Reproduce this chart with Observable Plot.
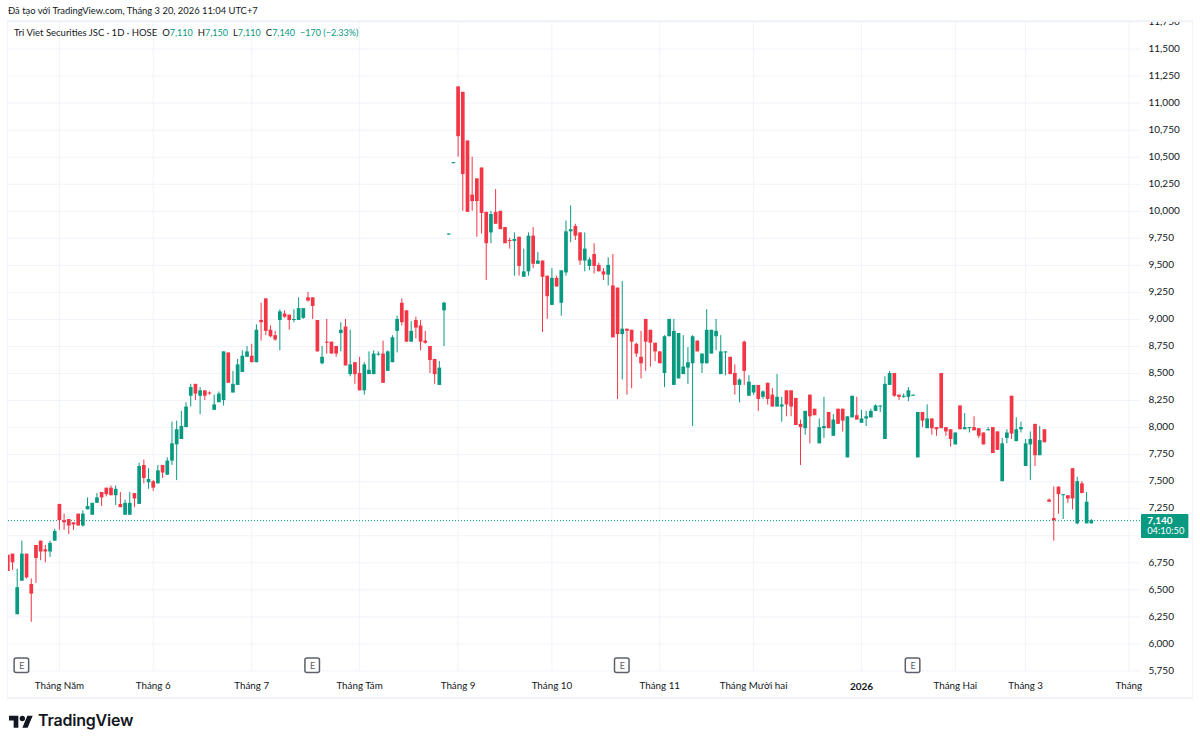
<!DOCTYPE html>
<html lang="vi">
<head>
<meta charset="utf-8">
<script src="https://cdn.jsdelivr.net/npm/d3@7"></script>
<script src="https://cdn.jsdelivr.net/npm/@observablehq/plot@0.6"></script>
<style>
html,body{margin:0;padding:0;background:#fff;overflow:hidden;font-family:Lato,sans-serif;color:#131722}
#head{height:20px;position:relative;font-size:9.4px;line-height:22px;padding-left:8px;white-space:nowrap}
#chart{position:relative;height:677px}
#chart svg{display:block;overflow:hidden}
#box{position:absolute;left:7px;top:0;width:1184px;height:675px;border:2px solid #f0f3fa;border-left-width:1px;border-right-width:1px;pointer-events:none}
#legend{position:absolute;left:14px;top:6px;font-size:9.5px;line-height:14px;white-space:nowrap}
#legend b{font-weight:400;font-size:9px;color:#089981}
#legend span{margin-left:5px}
#foot{position:relative;height:47px}
#foot svg{position:absolute;left:9px;top:16px}
#foot div{position:absolute;left:38px;top:11px;font:600 16px/24px Inter,sans-serif;color:#131722;letter-spacing:-.2px}
</style>
</head>
<body>
<div id="head">Đã tạo với TradingView.com, Tháng 3 20, 2026 11:04 UTC+7</div>
<div id="chart"></div>
<div id="foot">
<svg width="24" height="15" viewBox="0 0 36 22"><path fill="#131722" d="M14 22H7V11H0V4h14v18zM28 22h-8l7.5-18h8L28 22z"/><circle fill="#131722" cx="20" cy="8" r="4"/></svg>
<div>TradingView</div>
</div>
<script>
// Trading-day index of the first bar; d = close below open, u = close above open
const firstBar = -1;
const directions = [
  "dduudddddu","uddddduuuu","ddduduudud","ududuuuuuu","dudduuuduu",
  "uududdddud","duuudddudd","dududduuuu","duuudduddd","dduuuudddd",
  "ddduddddud","uududduduu","udduudddud","dudddddddd","uuuuuuuduu",
  "uuuudduduu","dudduudddd","udduududdu","uduuuuuuud","duuuududdd",
  "dduduudddu","dduuduuuud","udddduddud","uu"
].join("");
const bodyTop = [
  6820,6830,6520,6830,6830,6550,6910,6950,6870,6930,
  7040,7290,7140,7150,7120,7200,7200,7270,7300,7350,
  7400,7440,7440,7430,7290,7300,7300,7390,7640,7650,
  7520,7500,7600,7650,7690,7850,7980,8010,8190,8370,
  8400,8340,8340,8320,8210,8310,8700,8690,8400,8580,
  8660,8700,8660,8900,8990,9190,8900,8850,9070,9050,
  9040,9000,9100,9100,9200,9200,8990,8650,8790,8790,
  8750,8900,8930,8580,8600,8500,8580,8530,8680,8680,
  8680,8700,8830,9000,9150,9080,8890,8990,8940,8800,
  8750,8630,8550,9150,9790,10450,11150,11100,10650,10150,
  10300,10400,9990,9970,9990,10000,9850,9730,9740,9760,
  9440,9770,9770,9540,9540,9400,9380,9380,9450,9810,
  9830,9860,9800,9650,9550,9600,9500,9440,9500,9310,
  9290,8910,8910,8900,8770,8650,9000,8900,8780,8700,
  8840,9000,8890,8870,8560,8600,8840,8800,8680,8900,
  8900,8890,8700,8700,8650,8500,8440,8790,8420,8390,
  8390,8330,8410,8300,8280,8210,8340,8340,8270,8030,
  8150,8300,8170,8000,8010,8140,8070,8170,8170,8100,
  8290,8110,8080,8100,8150,8200,8200,8400,8500,8500,
  8300,8290,8340,8300,8140,8140,8080,8080,8000,8500,
  8000,7980,7950,8200,8000,8000,8000,7990,7950,7980,
  8000,7960,7850,7950,8290,7980,8000,7850,7890,8030,
  7880,7980,7330,7160,7450,7380,7370,7620,7500,7480,
  7310,7140
];
const bodyBottom = [
  6670,6750,6270,6580,6610,6460,6790,6850,6850,6850,
  6950,7140,7120,7090,7100,7090,7090,7240,7190,7300,
  7350,7380,7370,7370,7260,7190,7190,7340,7290,7530,
  7490,7440,7480,7580,7560,7690,7840,7890,8000,8290,
  8310,8290,8290,8310,8160,8230,8250,8410,8320,8390,
  8510,8650,8600,8600,8970,8890,8840,8810,8990,9020,
  8990,8990,8990,9010,9170,9120,8700,8590,8780,8680,
  8680,8870,8570,8490,8490,8340,8340,8490,8490,8670,
  8410,8520,8600,8890,8970,8790,8790,8920,8790,8780,
  8620,8490,8390,9080,9780,10440,10690,10340,9990,10090,
  10090,9980,9700,9800,9880,9830,9700,9720,9720,9490,
  9390,9440,9510,9510,9390,9210,9130,9300,9150,9430,
  9810,9770,9540,9540,9490,9490,9440,9410,9410,8830,
  8860,8860,8890,8790,8680,8590,8790,8780,8700,8590,
  8500,8840,8390,8450,8490,8550,8590,8700,8590,8590,
  8680,8840,8490,8690,8490,8390,8390,8520,8290,8320,
  8260,8280,8260,8190,8190,8190,8210,8190,8020,8000,
  7990,8100,8110,7850,7990,7990,7920,8030,8060,7720,
  8090,8070,8040,8080,8090,8150,8190,7890,8390,8290,
  8280,8280,8280,8290,7720,8060,7990,7990,7980,7990,
  7960,7890,7840,7980,7980,7990,7970,7920,7840,7970,
  7760,7790,7500,7900,7940,7870,7980,7640,7840,7740,
  7740,7860,7310,7140,7380,7370,7340,7340,7110,7390,
  7110,7110
];
const highs = [
  6820,6830,6690,6950,6830,6600,6910,6950,6910,6950,
  7060,7290,7200,7150,7120,7200,7230,7350,7300,7390,
  7400,7440,7460,7460,7400,7330,7400,7390,7670,7700,
  7620,7510,7650,7650,7720,8050,8060,8150,8230,8400,
  8400,8370,8340,8330,8300,8330,8700,8690,8520,8630,
  8710,8750,8770,8950,9150,9190,8940,8890,9090,9080,
  9040,9090,9200,9100,9250,9200,8990,8750,9000,8790,
  8750,8970,9000,8900,8600,8650,8600,8700,8710,8700,
  8800,8710,8850,9030,9190,9080,8980,9020,8990,8890,
  8750,8630,8610,9160,9790,10450,11150,11100,10650,10500,
  10300,10400,9990,10000,10200,10000,9850,9750,9800,9760,
  9650,9800,9850,9620,9540,9400,9470,9400,9450,9910,
  10050,9880,9800,9800,9570,9700,9520,9470,9570,9600,
  9290,9350,8910,8900,8780,8890,9000,8900,8780,8700,
  8850,9000,9000,8870,8850,8740,8850,8800,8680,9090,
  8900,9000,8850,8700,8650,8580,8450,8800,8480,8390,
  8390,8340,8410,8360,8490,8280,8340,8340,8270,8070,
  8150,8300,8170,8080,8280,8140,8120,8170,8170,8100,
  8290,8280,8160,8150,8170,8210,8200,8470,8520,8500,
  8300,8310,8370,8300,8140,8140,8210,8080,8000,8500,
  8000,7980,7950,8200,8130,8000,8100,7990,7950,8000,
  8000,7960,7900,7980,8290,8090,8050,7890,7960,8030,
  8010,7980,7340,7450,7450,7380,7370,7620,7540,7500,
  7400,7150
];
const lows = [
  6670,6680,6270,6580,6600,6200,6560,6770,6750,6800,
  6950,7050,7050,7010,7050,7090,7080,7240,7190,7300,
  7270,7360,7370,7280,7260,7190,7190,7260,7290,7480,
  7430,7410,7480,7530,7560,7650,7510,7890,8000,8190,
  8250,8120,8250,8300,8160,8230,8200,8410,8320,8390,
  8510,8650,8600,8600,8800,8850,8830,8800,8710,9010,
  8900,8970,8990,9000,9160,9000,8700,8580,8680,8680,
  8650,8700,8570,8470,8400,8340,8300,8490,8490,8660,
  8410,8520,8600,8690,8940,8790,8790,8820,8710,8770,
  8500,8400,8390,8750,9780,10440,10500,10000,9990,10000,
  9760,9790,9360,9700,9880,9830,9700,9650,9400,9400,
  9390,9400,9470,9510,8880,9000,9130,9300,9030,9400,
  9710,9730,9500,9440,9450,9420,9440,9360,9310,8830,
  8260,8440,8300,8360,8650,8450,8520,8560,8610,8590,
  8370,8840,8390,8450,8490,8400,8010,8700,8500,8590,
  8680,8710,8490,8480,8490,8300,8230,8390,8290,8300,
  8150,8260,8210,8190,8190,8050,8100,8100,8020,7650,
  7930,7850,8110,7850,7900,7990,7920,8030,7960,7720,
  8090,8070,8040,8010,8090,8150,8140,7890,8390,8280,
  8250,8270,8240,8290,7720,8000,7990,7930,7920,7990,
  7920,7820,7840,7980,7980,7950,7970,7900,7840,7970,
  7760,7790,7500,7850,7890,7870,7950,7640,7510,7640,
  7740,7860,7310,6950,7200,7150,7300,7240,7100,7390,
  7110,7110
];
const gridPrices = [5750,6000,6250,6500,6750,7000,7250,7500,7750,8000,8250,8500,8750,9000,9250,9500,9750,10000,10250,10500,10750,11000,11250,11500,11750];
// the reference's last-price label hides the 7,000 tick
const labelPrices = gridPrices.filter(p => p !== 7000);
const monthBars = [10,30,51,74,95,115,138,158,201,216,238];
const monthNames = ["Tháng Năm","Tháng 6","Tháng 7","Tháng Tám","Tháng 9","Tháng 10","Tháng 11","Tháng Mười hai","Tháng Hai","Tháng 3","Tháng"];
const yearBar = 181, yearName = "2026";
const earningsBars = [2,64,130,192];
const lastPrice = 7140, countdown = "04:10:50";
const legendName = "Tri Viet Securities JSC · 1D · HOSE";
const legendPairs = [["O","7,110"],["H","7,150"],["L","7,110"],["C","7,140"],["","−170 (−2.33%)"]];

const UP = "#089981", DOWN = "#F23645", GRID = "#f0f3fa", INK = "#131722";
const candles = bodyTop.map((t, k) => ({
  bar: firstBar + k, top: t, bottom: bodyBottom[k], high: highs[k], low: lows[k],
  color: directions[k] === "u" ? UP : DOWN
}));
const earnings = earningsBars.map(b => ({x1: b - 1.55, x2: b + 1.55, y1: 5730, y2: 5865, x: b, y: 5795}));

const plot = Plot.plot({
  width: 1200, height: 677,
  marginLeft: 8, marginRight: 59, marginTop: 0, marginBottom: 26,
  x: {type: "linear", domain: [-0.853, 240.7], axis: null},
  y: {domain: [5745, 11764], axis: null},
  style: {fontFamily: "Lato, sans-serif", fontSize: "10px", color: INK, background: "#fff"},
  marks: [
    Plot.gridX(monthBars.concat(yearBar), {stroke: GRID, strokeOpacity: 1}),
    Plot.gridY(gridPrices, {stroke: GRID, strokeOpacity: 1}),
    Plot.ruleY([lastPrice], {stroke: UP, strokeWidth: 1, strokeDasharray: "1 2"}),
    Plot.ruleX(candles, {x: "bar", y1: "low", y2: "high", stroke: d => d.color, strokeWidth: 1, clip: true}),
    Plot.ruleX(candles, {x: "bar", y1: "bottom", y2: "top", stroke: d => d.color, strokeWidth: 3.7, clip: true}),
    Plot.rect(earnings, {x1: "x1", x2: "x2", y1: "y1", y2: "y2", fill: "#fff", stroke: "#5d606b", strokeWidth: 1.5, rx: 2}),
    Plot.text(earnings, {x: "x", y: "y", text: () => "E", fill: "#5d606b", fontSize: 9}),
    Plot.axisY(labelPrices, {anchor: "right", tickSize: 0, tickPadding: 7, dy: -0.5, label: null, tickFormat: d3.format(","), fill: INK, fontSize: 10}),
    Plot.axisX(monthBars, {anchor: "bottom", tickSize: 0, tickPadding: 11, label: null, tickFormat: b => monthNames[monthBars.indexOf(b)], fill: INK, fontSize: 9.8}),
    Plot.axisX([yearBar], {anchor: "bottom", tickSize: 0, tickPadding: 11, label: null, tickFormat: () => yearName, fill: INK, fontSize: 10, fontWeight: "bold"}),
    Plot.rect([lastPrice], {x1: () => 240.7, x2: () => 250.8, y1: () => 6975, y2: () => 7197, fill: UP, rx: 1}),
    Plot.text([lastPrice], {x: () => 241.9, y: () => 7140, text: d3.format(","), textAnchor: "start", fill: "#fff", fontSize: 10, fontWeight: "bold"}),
    Plot.text([countdown], {x: () => 241.9, y: () => 7040, text: d => d, textAnchor: "start", fill: "#fff", fontSize: 9.4})
  ]
});
const chart = document.getElementById("chart");
chart.appendChild(plot);

const legend = document.createElement("div");
legend.id = "legend";
legend.textContent = legendName;
for (const [k, v] of legendPairs) {
  const s = document.createElement("span");
  s.textContent = k;
  const b = document.createElement("b");
  b.textContent = v;
  s.appendChild(b);
  legend.appendChild(s);
}
chart.appendChild(legend);
const box = document.createElement("div");
box.id = "box";
chart.appendChild(box);
</script>
</body>
</html>
